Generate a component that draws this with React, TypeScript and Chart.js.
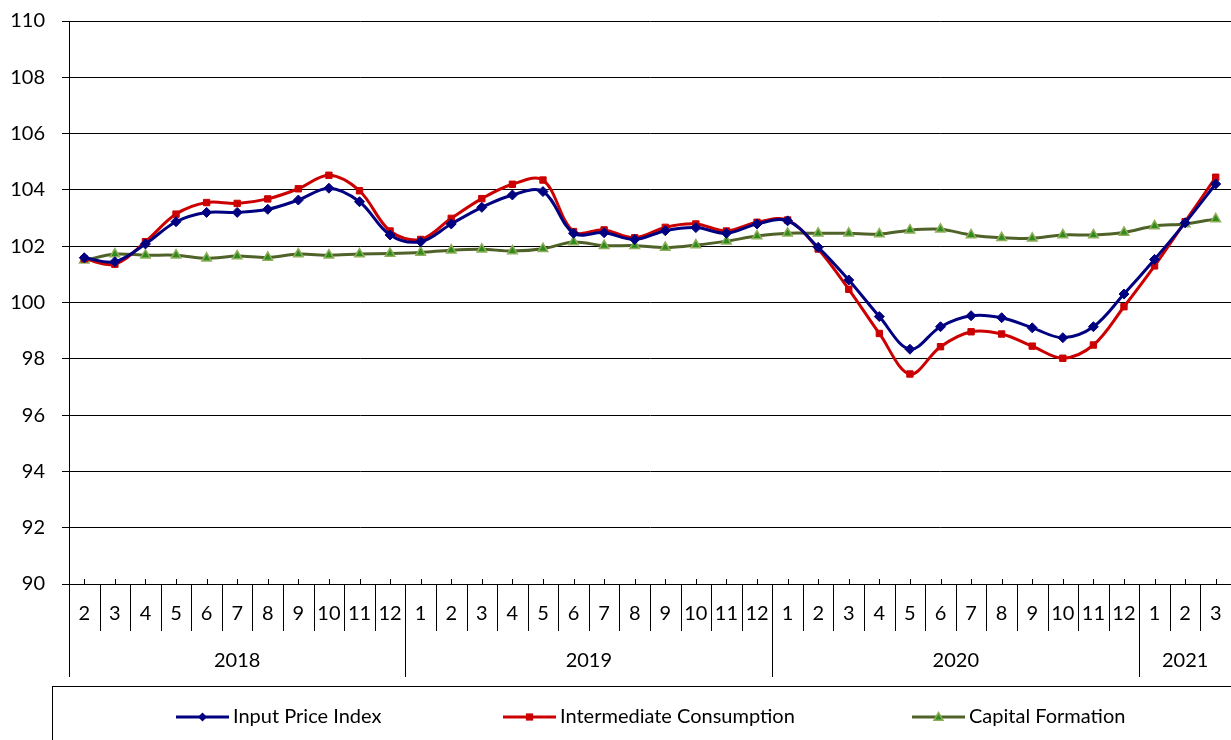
import React, { useEffect, useRef } from "react";
import { Chart, registerables } from "chart.js";

Chart.register(...registerables);

const categoryMonths = [
  "2", "3", "4", "5", "6", "7", "8", "9", "10", "11", "12",
  "1", "2", "3", "4", "5", "6", "7", "8", "9", "10", "11", "12",
  "1", "2", "3", "4", "5", "6", "7", "8", "9", "10", "11", "12",
  "1", "2", "3",
];
const categoryYears = [
  ...Array(11).fill("2018"),
  ...Array(12).fill("2019"),
  ...Array(12).fill("2020"),
  ...Array(3).fill("2021"),
];

const inputPriceIndex = [
  101.59, 101.45, 102.08, 102.87, 103.2, 103.2, 103.31, 103.64, 104.06, 103.58, 102.4,
  102.16, 102.79, 103.38, 103.82, 103.94, 102.46, 102.48, 102.24, 102.55, 102.66, 102.46, 102.79,
  102.9, 101.96, 100.8, 99.5, 98.34, 99.14, 99.53, 99.46, 99.1, 98.75, 99.14, 100.3,
  101.53, 102.83, 104.21,
];
const intermediateConsumption = [
  101.55, 101.36, 102.16, 103.14, 103.55, 103.52, 103.68, 104.04, 104.52, 103.97, 102.54,
  102.24, 102.99, 103.69, 104.2, 104.35, 102.52, 102.58, 102.3, 102.67, 102.79, 102.54, 102.85,
  102.93, 101.9, 100.47, 98.9, 97.46, 98.43, 98.96, 98.88, 98.45, 98.02, 98.49, 99.85,
  101.3, 102.87, 104.45,
];
const capitalFormation = [
  101.5, 101.72, 101.68, 101.68, 101.57, 101.65, 101.6, 101.72, 101.68, 101.72, 101.74,
  101.78, 101.86, 101.89, 101.83, 101.91, 102.15, 102.02, 102.02, 101.95, 102.04, 102.18, 102.36,
  102.46, 102.46, 102.46, 102.43, 102.57, 102.6, 102.4, 102.3, 102.28, 102.4, 102.4, 102.49,
  102.72, 102.79, 102.97,
];

const seriesNames = ["Input Price Index", "Intermediate Consumption", "Capital Formation"];
const seriesColors = ["#000080", "#CC0000", "#4F6228"];
const FONT = "Lato, 'Open Sans', sans-serif";

function drawMarker(ctx: CanvasRenderingContext2D, kind: number, x: number, y: number, r: number) {
  ctx.beginPath();
  if (kind === 0) {
    ctx.moveTo(x, y - r);
    ctx.lineTo(x + r, y);
    ctx.lineTo(x, y + r);
    ctx.lineTo(x - r, y);
    ctx.closePath();
    ctx.fillStyle = "#000080";
    ctx.fill();
  } else if (kind === 1) {
    ctx.rect(x - r * 0.8, y - r * 0.8, r * 1.6, r * 1.6);
    ctx.fillStyle = "#CC0000";
    ctx.fill();
  } else {
    ctx.moveTo(x, y - r);
    ctx.lineTo(x + r, y + r * 0.7);
    ctx.lineTo(x - r, y + r * 0.7);
    ctx.closePath();
    ctx.fillStyle = "#2E8B1E";
    ctx.fill();
    ctx.strokeStyle = "#8FAE5A";
    ctx.lineWidth = 1.5;
    ctx.stroke();
  }
}

const axisPlugin = {
  id: "multiLevelAxis",
  afterDraw(chart: any) {
    const { ctx, chartArea, scales } = chart;
    const x = scales.x;
    const bottom = chartArea.bottom;
    const left = chartArea.left;
    const right = chartArea.right;
    const monthLineBottom = 631;
    const yearLineBottom = 677;
    const px = (v: number) => Math.round(v) + 0.5;
    ctx.save();
    ctx.strokeStyle = "#000";
    ctx.lineWidth = 1;
    const line = (x1: number, y1: number, x2: number, y2: number) => {
      ctx.beginPath();
      ctx.moveTo(x1, y1);
      ctx.lineTo(x2, y2);
      ctx.stroke();
    };
    line(left, px(bottom), right, px(bottom));
    line(px(left), bottom, px(left), yearLineBottom);
    const n = categoryMonths.length;
    for (let i = 0; i < n; i++) {
      const cx = x.getPixelForValue(i);
      line(px(cx), bottom - 5, px(cx), bottom);
    }
    for (let i = 1; i < n; i++) {
      const bx = (x.getPixelForValue(i - 1) + x.getPixelForValue(i)) / 2;
      const yearBreak = categoryYears[i] !== categoryYears[i - 1];
      line(px(bx), bottom, px(bx), yearBreak ? yearLineBottom : monthLineBottom);
    }
    ctx.fillStyle = "#000";
    ctx.font = `20px ${FONT}`;
    ctx.textAlign = "center";
    ctx.textBaseline = "middle";
    for (let i = 0; i < n; i++) {
      ctx.fillText(categoryMonths[i], x.getPixelForValue(i), 614);
    }
    const step = x.getPixelForValue(1) - x.getPixelForValue(0);
    let start = 0;
    for (let i = 1; i <= n; i++) {
      if (i === n || categoryYears[i] !== categoryYears[start]) {
        const a = x.getPixelForValue(start) - step / 2;
        const b = x.getPixelForValue(i - 1) + step / 2;
        ctx.fillText(categoryYears[start], (a + b) / 2, 661);
        start = i;
      }
    }
    // legend
    ctx.strokeStyle = "#000";
    ctx.lineWidth = 1;
    ctx.strokeRect(52.5, 686.5, 1300, 100);
    const itemX = [176, 503, 912];
    const ly = 717;
    for (let k = 0; k < 3; k++) {
      const x1 = itemX[k];
      const x2 = x1 + 53;
      ctx.strokeStyle = seriesColors[k];
      ctx.lineWidth = 3;
      line(x1, ly, x2, ly);
      drawMarker(ctx, k, (x1 + x2) / 2, ly, 4.5);
      ctx.fillStyle = "#000";
      ctx.font = `20px ${FONT}`;
      ctx.textAlign = "left";
      ctx.textBaseline = "middle";
      ctx.fillText(seriesNames[k], x2 + 4, ly);
    }
    ctx.restore();
  },
};

export default function App() {
  const ref = useRef<HTMLCanvasElement>(null);
  useEffect(() => {
    document.body.style.margin = "0";
    const canvas = ref.current!;
    const chart = new Chart(canvas, {
      type: "line",
      data: {
        labels: categoryMonths,
        datasets: [
          {
            label: seriesNames[0],
            data: inputPriceIndex,
            borderColor: seriesColors[0],
            backgroundColor: "#000080",
            borderWidth: 3,
            pointStyle: "rectRot",
            pointRadius: 5,
            pointBorderWidth: 1,
            pointBorderColor: "#000080",
            pointBackgroundColor: "#000080",
            tension: 0.35,
          },
          {
            label: seriesNames[1],
            data: intermediateConsumption,
            borderColor: seriesColors[1],
            backgroundColor: "#CC0000",
            borderWidth: 3,
            pointStyle: "rect",
            pointRadius: 4.5,
            pointBorderWidth: 1,
            pointBorderColor: "#CC0000",
            pointBackgroundColor: "#CC0000",
            tension: 0.35,
          },
          {
            label: seriesNames[2],
            data: capitalFormation,
            borderColor: seriesColors[2],
            backgroundColor: "#2E8B1E",
            borderWidth: 3,
            pointStyle: "triangle",
            pointRadius: 5.5,
            pointBorderWidth: 1.5,
            pointBorderColor: "#8FAE5A",
            pointBackgroundColor: "#2E8B1E",
            tension: 0.3,
          },
        ],
      },
      options: {
        responsive: false,
        animation: false,
        layout: { autoPadding: false, padding: { top: 21, right: 0, left: 0, bottom: 0 } },
        plugins: {
          legend: { display: false },
          tooltip: { enabled: false },
        },
        scales: {
          x: {
            type: "category",
            offset: true,
            grid: { display: false },
            border: { display: false },
            ticks: { display: false },
            afterFit: (s: any) => {
              s.height = 156;
              s.paddingLeft = 0;
              s.paddingRight = 0;
              s.paddingTop = 0;
              s.paddingBottom = 0;
            },
          },
          y: {
            min: 90,
            max: 110,
            ticks: {
              stepSize: 2,
              color: "#000",
              padding: 17,
              font: { family: FONT, size: 20 },
            },
            grid: { color: "#000", lineWidth: 1, tickLength: 7 },
            border: { display: true, color: "#000" },
            afterFit: (s: any) => {
              s.width = 69;
              s.paddingTop = 0;
              s.paddingBottom = 0;
              s.paddingLeft = 0;
              s.paddingRight = 0;
            },
          },
        },
      },
      plugins: [axisPlugin],
    });
    return () => chart.destroy();
  }, []);
  return <canvas ref={ref} width={1231} height={740} style={{ display: "block" }} />;
}
